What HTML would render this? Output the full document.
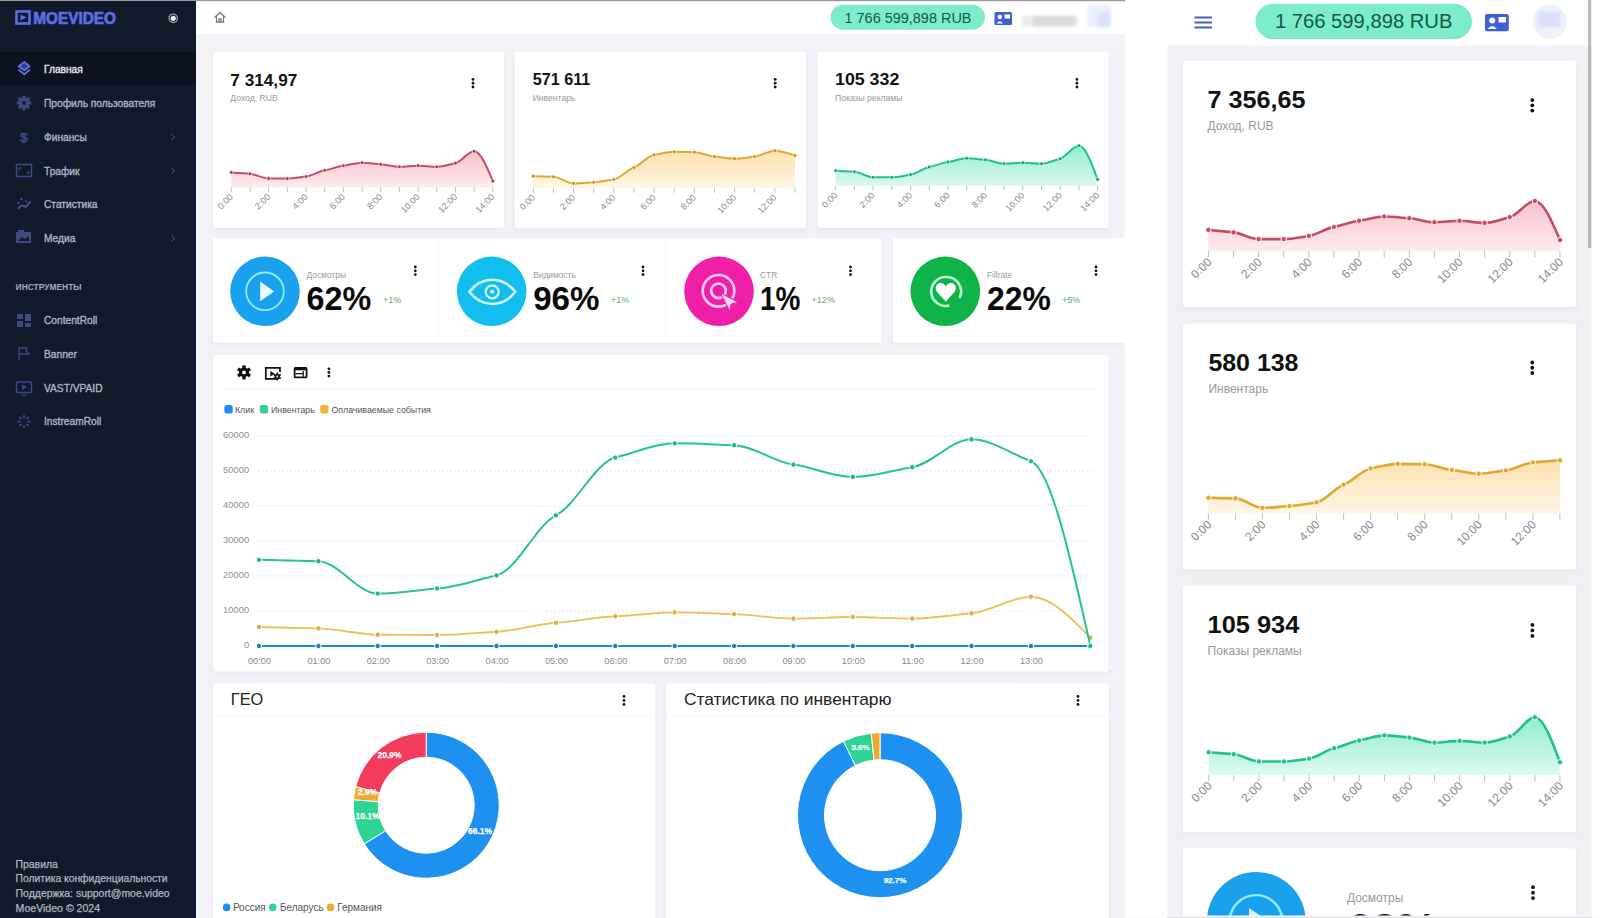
<!DOCTYPE html><html><head><meta charset="utf-8"><title>MoeVideo</title><style>html,body{margin:0;padding:0;width:1600px;height:918px;overflow:hidden;background:#fff;}svg{display:block;font-family:"Liberation Sans", sans-serif;}</style></head><body>
<svg width="1600" height="918" viewBox="0 0 1600 918" font-family='Liberation Sans, sans-serif'>
<defs><filter id="sh" x="-5%" y="-5%" width="110%" height="115%"><feDropShadow dx="0" dy="2" stdDeviation="2.5" flood-color="#8a8aa0" flood-opacity="0.12"/></filter><filter id="bl" x="-30%" y="-30%" width="160%" height="160%"><feGaussianBlur stdDeviation="1.6"/></filter></defs>
<rect x="196" y="0" width="929" height="918" fill="#f3f3f7"/>
<rect x="196" y="0" width="929" height="34" fill="#ffffff"/>
<rect x="0" y="0" width="1125" height="1.2" fill="#9a9a9a"/>
<rect x="0" y="1" width="196" height="917" fill="#111a2b"/>
<rect x="0" y="52" width="196" height="33" fill="#0d1221"/>
<rect x="16.5" y="11.5" width="13" height="12" fill="none" stroke="#5b6fe6" stroke-width="2.6"/>
<path d="M20.5,14.5 L26.5,17.5 L20.5,20.5 Z" fill="#5b6fe6"/>
<text x="33.30" y="23.60" font-size="16.20" fill="#5b6fe6" font-weight="bold" text-anchor="start" textLength="82.6" lengthAdjust="spacingAndGlyphs" stroke="#5b6fe6" stroke-width="0.7">MOEVIDEO</text>
<circle cx="173.2" cy="18.3" r="4.2" fill="none" stroke="#9a9ca8" stroke-width="1.3"/><circle cx="173.2" cy="18.3" r="2.6" fill="#f4f4f8"/>
<text x="44.00" y="72.90" font-size="10.20" fill="#e6e7ee" font-weight="normal" text-anchor="start" stroke="#e6e7ee" stroke-width="0.35">Главная</text>
<text x="44.00" y="106.70" font-size="10.20" fill="#aeb2c3" font-weight="normal" text-anchor="start" stroke="#aeb2c3" stroke-width="0.35">Профиль пользователя</text>
<text x="44.00" y="140.90" font-size="10.20" fill="#aeb2c3" font-weight="normal" text-anchor="start" stroke="#aeb2c3" stroke-width="0.35">Финансы</text>
<text x="44.00" y="174.50" font-size="10.20" fill="#aeb2c3" font-weight="normal" text-anchor="start" stroke="#aeb2c3" stroke-width="0.35">Трафик</text>
<text x="44.00" y="208.20" font-size="10.20" fill="#aeb2c3" font-weight="normal" text-anchor="start" stroke="#aeb2c3" stroke-width="0.35">Статистика</text>
<text x="44.00" y="242.20" font-size="10.20" fill="#aeb2c3" font-weight="normal" text-anchor="start" stroke="#aeb2c3" stroke-width="0.35">Медиа</text>
<text x="44.00" y="323.90" font-size="10.20" fill="#aeb2c3" font-weight="normal" text-anchor="start" stroke="#aeb2c3" stroke-width="0.35">ContentRoll</text>
<text x="44.00" y="358.00" font-size="10.20" fill="#aeb2c3" font-weight="normal" text-anchor="start" stroke="#aeb2c3" stroke-width="0.35">Banner</text>
<text x="44.00" y="391.70" font-size="10.20" fill="#aeb2c3" font-weight="normal" text-anchor="start" stroke="#aeb2c3" stroke-width="0.35">VAST/VPAID</text>
<text x="44.00" y="425.30" font-size="10.20" fill="#aeb2c3" font-weight="normal" text-anchor="start" stroke="#aeb2c3" stroke-width="0.35">InstreamRoll</text>
<path d="M171.5,134.20 l3,3 l-3,3" fill="none" stroke="#5b5f73" stroke-width="1"/>
<path d="M171.5,167.80 l3,3 l-3,3" fill="none" stroke="#5b5f73" stroke-width="1"/>
<path d="M171.5,235.50 l3,3 l-3,3" fill="none" stroke="#5b5f73" stroke-width="1"/>
<text x="15.60" y="290.30" font-size="8.60" fill="#a6a9ba" font-weight="bold" text-anchor="start" textLength="66" lengthAdjust="spacingAndGlyphs">ИНСТРУМЕНТЫ</text>
<path d="M24.3,61.8 L29.6,66.3 L24.3,70.3 L18.6,66.3 Z" fill="#2c3a96" stroke="#6674dc" stroke-width="1.7" stroke-linejoin="round"/>
<path d="M18.4,69.6 L24.3,74.2 L30,69.6" fill="none" stroke="#6674dc" stroke-width="1.8" stroke-linejoin="round"/>
<g transform="translate(24,103)"><circle r="5.2" fill="#414a80"/><circle r="2" fill="#111a2b"/><rect x="-1.6" y="-7.2" width="3.2" height="3" fill="#414a80" transform="rotate(0)"/><rect x="-1.6" y="-7.2" width="3.2" height="3" fill="#414a80" transform="rotate(45)"/><rect x="-1.6" y="-7.2" width="3.2" height="3" fill="#414a80" transform="rotate(90)"/><rect x="-1.6" y="-7.2" width="3.2" height="3" fill="#414a80" transform="rotate(135)"/><rect x="-1.6" y="-7.2" width="3.2" height="3" fill="#414a80" transform="rotate(180)"/><rect x="-1.6" y="-7.2" width="3.2" height="3" fill="#414a80" transform="rotate(225)"/><rect x="-1.6" y="-7.2" width="3.2" height="3" fill="#414a80" transform="rotate(270)"/><rect x="-1.6" y="-7.2" width="3.2" height="3" fill="#414a80" transform="rotate(315)"/></g>
<text x="24.00" y="142.30" font-size="13.50" fill="#414a80" font-weight="normal" text-anchor="middle" stroke="#414a80" stroke-width="0.6">$</text>
<rect x="16.5" y="164.5" width="15" height="12" fill="none" stroke="#414a80" stroke-width="1.5"/><path d="M19,168 h3 M19,168 v2 M29,173 h-3 M29,173 v-2" stroke="#414a80" stroke-width="1.2"/>
<path d="M18.3,208.5 Q21,205 23,205.6 Q25,207 26.3,206.6 L30,201.8" fill="none" stroke="#4a5282" stroke-width="1.9" stroke-linecap="round"/><circle cx="21.4" cy="199" r="1.3" fill="#4a5282"/><circle cx="18.3" cy="203" r="1.2" fill="#4a5282"/><circle cx="26.1" cy="201.5" r="1.1" fill="#454c7c"/>
<rect x="16" y="232" width="15" height="11" fill="#414a80"/><rect x="18" y="230" width="6" height="3" fill="#414a80"/><path d="M18,241 l4,-4 l3,2 l4,-3 v5 z" fill="#111a2b"/>
<rect x="17" y="314" width="6" height="5" fill="#414a80"/><rect x="25" y="314" width="6" height="7" fill="#414a80"/><rect x="17" y="321" width="6" height="6" fill="#414a80"/><rect x="25" y="323" width="6" height="4" fill="#414a80"/>
<path d="M19,360 V348 H27 L26,351 L29,354 H20" fill="none" stroke="#414a80" stroke-width="1.3"/>
<rect x="16.5" y="382" width="15" height="10.5" rx="1" fill="none" stroke="#414a80" stroke-width="1.4"/><path d="M22,384.5 L27,387.2 L22,390 Z" fill="#414a80"/><path d="M21,395 h6" stroke="#414a80" stroke-width="1.2"/>
<g transform="translate(24,421.6)"><rect x="-0.9" y="-6.5" width="1.8" height="3" fill="#414a80" transform="rotate(0)"/><rect x="-0.9" y="-6.5" width="1.8" height="3" fill="#414a80" transform="rotate(45)"/><rect x="-0.9" y="-6.5" width="1.8" height="3" fill="#414a80" transform="rotate(90)"/><rect x="-0.9" y="-6.5" width="1.8" height="3" fill="#414a80" transform="rotate(135)"/><rect x="-0.9" y="-6.5" width="1.8" height="3" fill="#414a80" transform="rotate(180)"/><rect x="-0.9" y="-6.5" width="1.8" height="3" fill="#414a80" transform="rotate(225)"/><rect x="-0.9" y="-6.5" width="1.8" height="3" fill="#414a80" transform="rotate(270)"/><rect x="-0.9" y="-6.5" width="1.8" height="3" fill="#414a80" transform="rotate(315)"/></g>
<text x="15.60" y="867.50" font-size="10.40" fill="#b3b6c0" font-weight="normal" text-anchor="start"  stroke="#b3b6c0" stroke-width="0.25">Правила</text>
<text x="15.60" y="882.20" font-size="10.40" fill="#b3b6c0" font-weight="normal" text-anchor="start" textLength="152.0" lengthAdjust="spacingAndGlyphs" stroke="#b3b6c0" stroke-width="0.25">Политика конфиденциальности</text>
<text x="15.60" y="897.00" font-size="10.40" fill="#b3b6c0" font-weight="normal" text-anchor="start" textLength="154.0" lengthAdjust="spacingAndGlyphs" stroke="#b3b6c0" stroke-width="0.25">Поддержка: support@moe.video</text>
<text x="15.60" y="911.50" font-size="10.40" fill="#b3b6c0" font-weight="normal" text-anchor="start" textLength="84.5" lengthAdjust="spacingAndGlyphs" stroke="#b3b6c0" stroke-width="0.25">MoeVideo © 2024</text>
<path d="M214.5,17.5 L220,12.5 L225.5,17.5 M216.5,16 V22 H223.5 V16 M219,22 v-3 h2 v3" fill="none" stroke="#7a7a7a" stroke-width="1.3"/>
<rect x="830.6" y="4.7" width="154.4" height="25" rx="12.5" fill="#7deccd"/>
<text x="908.00" y="22.50" font-size="14.40" fill="#0e5a46" font-weight="normal" text-anchor="middle" textLength="127" lengthAdjust="spacingAndGlyphs">1 766 599,898 RUB</text>
<rect x="994.5" y="12" width="17.5" height="13" rx="1.5" fill="#3d5fd9"/><circle cx="999.8" cy="17" r="2.2" fill="#fff"/><path d="M996.5,23.5 q3.3,-4.5 6.6,0 z" fill="#fff"/><rect x="1004.5" y="14.5" width="5.5" height="4" fill="#fff"/>
<g filter="url(#bl)"><rect x="1022" y="15.5" width="56" height="11" fill="#ececec"/><rect x="1033" y="16" width="42" height="10" fill="#dadada"/></g>
<g filter="url(#bl)"><rect x="1087.5" y="5" width="23.5" height="22.5" fill="#eaeefc"/><rect x="1098" y="12" width="12" height="15" fill="#dce3f9"/></g>
<rect x="213.00" y="51.80" width="291.00" height="176.20" rx="3" fill="#fff" filter="url(#sh)"/>
<rect x="514.80" y="51.80" width="291.20" height="176.40" rx="3" fill="#fff" filter="url(#sh)"/>
<rect x="817.60" y="51.80" width="291.00" height="176.20" rx="3" fill="#fff" filter="url(#sh)"/>
<text x="230.30" y="85.60" font-size="16.80" fill="#111" font-weight="bold" text-anchor="start" textLength="67" lengthAdjust="spacingAndGlyphs">7 314,97</text>
<text x="230.30" y="100.80" font-size="8.60" fill="#9a9a9a" font-weight="normal" text-anchor="start" >Доход, RUB</text>
<circle cx="473.00" cy="79.40" r="1.40" fill="#111"/><circle cx="473.00" cy="83.20" r="1.40" fill="#111"/><circle cx="473.00" cy="87.00" r="1.40" fill="#111"/>
<defs><linearGradient id="ga" x1="0" y1="0" x2="0" y2="1"><stop offset="0" stop-color="#f6a5b4" stop-opacity="0.68"/><stop offset="1" stop-color="#f6a5b4" stop-opacity="0.22"/></linearGradient></defs><path d="M231.30,172.40 C237.53,172.84 243.75,173.29 249.98,173.80 C256.21,174.31 262.43,178.46 268.66,178.50 C274.89,178.54 281.11,178.60 287.34,178.60 C293.57,178.60 299.79,177.33 306.02,176.60 C312.25,175.87 318.47,171.30 324.70,170.30 C330.93,169.30 337.15,166.40 343.38,165.70 C349.61,165.00 355.83,162.70 362.06,162.70 C368.29,162.70 374.51,163.92 380.74,164.30 C386.97,164.68 393.19,166.80 399.42,166.80 C405.65,166.80 411.87,165.70 418.10,165.70 C424.33,165.70 430.55,166.80 436.78,166.80 C443.01,166.80 449.23,164.52 455.46,163.20 C461.69,161.88 467.91,151.30 474.14,151.30 C480.37,151.30 486.59,166.15 492.82,181.00 L492.82,187.50 L231.30,187.50 Z" fill="url(#ga)"/><path d="M231.30,172.40 C237.53,172.84 243.75,173.29 249.98,173.80 C256.21,174.31 262.43,178.46 268.66,178.50 C274.89,178.54 281.11,178.60 287.34,178.60 C293.57,178.60 299.79,177.33 306.02,176.60 C312.25,175.87 318.47,171.30 324.70,170.30 C330.93,169.30 337.15,166.40 343.38,165.70 C349.61,165.00 355.83,162.70 362.06,162.70 C368.29,162.70 374.51,163.92 380.74,164.30 C386.97,164.68 393.19,166.80 399.42,166.80 C405.65,166.80 411.87,165.70 418.10,165.70 C424.33,165.70 430.55,166.80 436.78,166.80 C443.01,166.80 449.23,164.52 455.46,163.20 C461.69,161.88 467.91,151.30 474.14,151.30 C480.37,151.30 486.59,166.15 492.82,181.00" fill="none" stroke="#c94a62" stroke-width="2.00"/><circle cx="231.30" cy="172.40" r="1.90" fill="#a83a50" stroke="#fff" stroke-width="0.66"/><circle cx="249.98" cy="173.80" r="1.90" fill="#a83a50" stroke="#fff" stroke-width="0.66"/><circle cx="268.66" cy="178.50" r="1.90" fill="#a83a50" stroke="#fff" stroke-width="0.66"/><circle cx="287.34" cy="178.60" r="1.90" fill="#a83a50" stroke="#fff" stroke-width="0.66"/><circle cx="306.02" cy="176.60" r="1.90" fill="#a83a50" stroke="#fff" stroke-width="0.66"/><circle cx="324.70" cy="170.30" r="1.90" fill="#a83a50" stroke="#fff" stroke-width="0.66"/><circle cx="343.38" cy="165.70" r="1.90" fill="#a83a50" stroke="#fff" stroke-width="0.66"/><circle cx="362.06" cy="162.70" r="1.90" fill="#a83a50" stroke="#fff" stroke-width="0.66"/><circle cx="380.74" cy="164.30" r="1.90" fill="#a83a50" stroke="#fff" stroke-width="0.66"/><circle cx="399.42" cy="166.80" r="1.90" fill="#a83a50" stroke="#fff" stroke-width="0.66"/><circle cx="418.10" cy="165.70" r="1.90" fill="#a83a50" stroke="#fff" stroke-width="0.66"/><circle cx="436.78" cy="166.80" r="1.90" fill="#a83a50" stroke="#fff" stroke-width="0.66"/><circle cx="455.46" cy="163.20" r="1.90" fill="#a83a50" stroke="#fff" stroke-width="0.66"/><circle cx="474.14" cy="151.30" r="1.90" fill="#a83a50" stroke="#fff" stroke-width="0.66"/><circle cx="492.82" cy="181.00" r="1.90" fill="#a83a50" stroke="#fff" stroke-width="0.66"/><line x1="231.30" y1="187.20" x2="231.30" y2="192.20" stroke="#b8b8b8" stroke-width="0.9"/><line x1="249.98" y1="187.20" x2="249.98" y2="192.20" stroke="#b8b8b8" stroke-width="0.9"/><line x1="268.66" y1="187.20" x2="268.66" y2="192.20" stroke="#b8b8b8" stroke-width="0.9"/><line x1="287.34" y1="187.20" x2="287.34" y2="192.20" stroke="#b8b8b8" stroke-width="0.9"/><line x1="306.02" y1="187.20" x2="306.02" y2="192.20" stroke="#b8b8b8" stroke-width="0.9"/><line x1="324.70" y1="187.20" x2="324.70" y2="192.20" stroke="#b8b8b8" stroke-width="0.9"/><line x1="343.38" y1="187.20" x2="343.38" y2="192.20" stroke="#b8b8b8" stroke-width="0.9"/><line x1="362.06" y1="187.20" x2="362.06" y2="192.20" stroke="#b8b8b8" stroke-width="0.9"/><line x1="380.74" y1="187.20" x2="380.74" y2="192.20" stroke="#b8b8b8" stroke-width="0.9"/><line x1="399.42" y1="187.20" x2="399.42" y2="192.20" stroke="#b8b8b8" stroke-width="0.9"/><line x1="418.10" y1="187.20" x2="418.10" y2="192.20" stroke="#b8b8b8" stroke-width="0.9"/><line x1="436.78" y1="187.20" x2="436.78" y2="192.20" stroke="#b8b8b8" stroke-width="0.9"/><line x1="455.46" y1="187.20" x2="455.46" y2="192.20" stroke="#b8b8b8" stroke-width="0.9"/><line x1="474.14" y1="187.20" x2="474.14" y2="192.20" stroke="#b8b8b8" stroke-width="0.9"/><line x1="492.82" y1="187.20" x2="492.82" y2="192.20" stroke="#b8b8b8" stroke-width="0.9"/><text x="233.60" y="197.50" font-size="9.00" fill="#8a8a8a" text-anchor="end" transform="rotate(-45 233.60 197.50)">0:00</text><text x="270.96" y="197.50" font-size="9.00" fill="#8a8a8a" text-anchor="end" transform="rotate(-45 270.96 197.50)">2:00</text><text x="308.32" y="197.50" font-size="9.00" fill="#8a8a8a" text-anchor="end" transform="rotate(-45 308.32 197.50)">4:00</text><text x="345.68" y="197.50" font-size="9.00" fill="#8a8a8a" text-anchor="end" transform="rotate(-45 345.68 197.50)">6:00</text><text x="383.04" y="197.50" font-size="9.00" fill="#8a8a8a" text-anchor="end" transform="rotate(-45 383.04 197.50)">8:00</text><text x="420.40" y="197.50" font-size="9.00" fill="#8a8a8a" text-anchor="end" transform="rotate(-45 420.40 197.50)">10:00</text><text x="457.76" y="197.50" font-size="9.00" fill="#8a8a8a" text-anchor="end" transform="rotate(-45 457.76 197.50)">12:00</text><text x="495.12" y="197.50" font-size="9.00" fill="#8a8a8a" text-anchor="end" transform="rotate(-45 495.12 197.50)">14:00</text>
<text x="532.70" y="85.10" font-size="16.80" fill="#111" font-weight="bold" text-anchor="start" textLength="57.7" lengthAdjust="spacingAndGlyphs">571 611</text>
<text x="532.70" y="100.50" font-size="8.60" fill="#9a9a9a" font-weight="normal" text-anchor="start" >Инвентарь</text>
<circle cx="775.20" cy="79.40" r="1.40" fill="#111"/><circle cx="775.20" cy="83.20" r="1.40" fill="#111"/><circle cx="775.20" cy="87.00" r="1.40" fill="#111"/>
<defs><linearGradient id="gb" x1="0" y1="0" x2="0" y2="1"><stop offset="0" stop-color="#fbd38a" stop-opacity="0.68"/><stop offset="1" stop-color="#fbd38a" stop-opacity="0.22"/></linearGradient></defs><path d="M533.30,176.20 C540.01,176.39 546.72,176.58 553.43,176.80 C560.14,177.02 566.85,183.40 573.56,183.40 C580.27,183.40 586.98,182.67 593.69,182.30 C600.40,181.93 607.11,180.46 613.82,179.40 C620.53,178.34 627.24,169.75 633.95,167.50 C640.66,165.25 647.37,155.90 654.08,154.80 C660.79,153.70 667.50,151.80 674.21,151.80 C680.92,151.80 687.63,152.05 694.34,152.20 C701.05,152.35 707.76,156.00 714.47,156.60 C721.18,157.20 727.89,158.70 734.60,158.70 C741.31,158.70 748.02,157.33 754.73,156.60 C761.44,155.87 768.15,150.70 774.86,150.70 C781.57,150.70 788.28,153.10 794.99,155.50 L794.99,188.10 L533.30,188.10 Z" fill="url(#gb)"/><path d="M533.30,176.20 C540.01,176.39 546.72,176.58 553.43,176.80 C560.14,177.02 566.85,183.40 573.56,183.40 C580.27,183.40 586.98,182.67 593.69,182.30 C600.40,181.93 607.11,180.46 613.82,179.40 C620.53,178.34 627.24,169.75 633.95,167.50 C640.66,165.25 647.37,155.90 654.08,154.80 C660.79,153.70 667.50,151.80 674.21,151.80 C680.92,151.80 687.63,152.05 694.34,152.20 C701.05,152.35 707.76,156.00 714.47,156.60 C721.18,157.20 727.89,158.70 734.60,158.70 C741.31,158.70 748.02,157.33 754.73,156.60 C761.44,155.87 768.15,150.70 774.86,150.70 C781.57,150.70 788.28,153.10 794.99,155.50" fill="none" stroke="#e0a82c" stroke-width="2.00"/><circle cx="533.30" cy="176.20" r="1.90" fill="#c48f1c" stroke="#fff" stroke-width="0.66"/><circle cx="553.43" cy="176.80" r="1.90" fill="#c48f1c" stroke="#fff" stroke-width="0.66"/><circle cx="573.56" cy="183.40" r="1.90" fill="#c48f1c" stroke="#fff" stroke-width="0.66"/><circle cx="593.69" cy="182.30" r="1.90" fill="#c48f1c" stroke="#fff" stroke-width="0.66"/><circle cx="613.82" cy="179.40" r="1.90" fill="#c48f1c" stroke="#fff" stroke-width="0.66"/><circle cx="633.95" cy="167.50" r="1.90" fill="#c48f1c" stroke="#fff" stroke-width="0.66"/><circle cx="654.08" cy="154.80" r="1.90" fill="#c48f1c" stroke="#fff" stroke-width="0.66"/><circle cx="674.21" cy="151.80" r="1.90" fill="#c48f1c" stroke="#fff" stroke-width="0.66"/><circle cx="694.34" cy="152.20" r="1.90" fill="#c48f1c" stroke="#fff" stroke-width="0.66"/><circle cx="714.47" cy="156.60" r="1.90" fill="#c48f1c" stroke="#fff" stroke-width="0.66"/><circle cx="734.60" cy="158.70" r="1.90" fill="#c48f1c" stroke="#fff" stroke-width="0.66"/><circle cx="754.73" cy="156.60" r="1.90" fill="#c48f1c" stroke="#fff" stroke-width="0.66"/><circle cx="774.86" cy="150.70" r="1.90" fill="#c48f1c" stroke="#fff" stroke-width="0.66"/><circle cx="794.99" cy="155.50" r="1.90" fill="#c48f1c" stroke="#fff" stroke-width="0.66"/><line x1="533.30" y1="187.80" x2="533.30" y2="192.80" stroke="#b8b8b8" stroke-width="0.9"/><line x1="553.43" y1="187.80" x2="553.43" y2="192.80" stroke="#b8b8b8" stroke-width="0.9"/><line x1="573.56" y1="187.80" x2="573.56" y2="192.80" stroke="#b8b8b8" stroke-width="0.9"/><line x1="593.69" y1="187.80" x2="593.69" y2="192.80" stroke="#b8b8b8" stroke-width="0.9"/><line x1="613.82" y1="187.80" x2="613.82" y2="192.80" stroke="#b8b8b8" stroke-width="0.9"/><line x1="633.95" y1="187.80" x2="633.95" y2="192.80" stroke="#b8b8b8" stroke-width="0.9"/><line x1="654.08" y1="187.80" x2="654.08" y2="192.80" stroke="#b8b8b8" stroke-width="0.9"/><line x1="674.21" y1="187.80" x2="674.21" y2="192.80" stroke="#b8b8b8" stroke-width="0.9"/><line x1="694.34" y1="187.80" x2="694.34" y2="192.80" stroke="#b8b8b8" stroke-width="0.9"/><line x1="714.47" y1="187.80" x2="714.47" y2="192.80" stroke="#b8b8b8" stroke-width="0.9"/><line x1="734.60" y1="187.80" x2="734.60" y2="192.80" stroke="#b8b8b8" stroke-width="0.9"/><line x1="754.73" y1="187.80" x2="754.73" y2="192.80" stroke="#b8b8b8" stroke-width="0.9"/><line x1="774.86" y1="187.80" x2="774.86" y2="192.80" stroke="#b8b8b8" stroke-width="0.9"/><line x1="794.99" y1="187.80" x2="794.99" y2="192.80" stroke="#b8b8b8" stroke-width="0.9"/><text x="535.60" y="198.10" font-size="9.00" fill="#8a8a8a" text-anchor="end" transform="rotate(-45 535.60 198.10)">0:00</text><text x="575.86" y="198.10" font-size="9.00" fill="#8a8a8a" text-anchor="end" transform="rotate(-45 575.86 198.10)">2:00</text><text x="616.12" y="198.10" font-size="9.00" fill="#8a8a8a" text-anchor="end" transform="rotate(-45 616.12 198.10)">4:00</text><text x="656.38" y="198.10" font-size="9.00" fill="#8a8a8a" text-anchor="end" transform="rotate(-45 656.38 198.10)">6:00</text><text x="696.64" y="198.10" font-size="9.00" fill="#8a8a8a" text-anchor="end" transform="rotate(-45 696.64 198.10)">8:00</text><text x="736.90" y="198.10" font-size="9.00" fill="#8a8a8a" text-anchor="end" transform="rotate(-45 736.90 198.10)">10:00</text><text x="777.16" y="198.10" font-size="9.00" fill="#8a8a8a" text-anchor="end" transform="rotate(-45 777.16 198.10)">12:00</text>
<text x="835.00" y="85.10" font-size="16.80" fill="#111" font-weight="bold" text-anchor="start" textLength="64.3" lengthAdjust="spacingAndGlyphs">105 332</text>
<text x="835.00" y="100.50" font-size="8.60" fill="#9a9a9a" font-weight="normal" text-anchor="start" >Показы рекламы</text>
<circle cx="1076.90" cy="79.40" r="1.40" fill="#111"/><circle cx="1076.90" cy="83.20" r="1.40" fill="#111"/><circle cx="1076.90" cy="87.00" r="1.40" fill="#111"/>
<defs><linearGradient id="gc" x1="0" y1="0" x2="0" y2="1"><stop offset="0" stop-color="#5ee6b8" stop-opacity="0.68"/><stop offset="1" stop-color="#5ee6b8" stop-opacity="0.22"/></linearGradient></defs><path d="M835.70,170.70 C841.94,171.05 848.17,171.40 854.41,171.80 C860.65,172.20 866.88,177.30 873.12,177.30 C879.36,177.30 885.59,177.30 891.83,177.30 C898.07,177.30 904.30,175.54 910.54,174.60 C916.78,173.66 923.01,168.16 929.25,167.00 C935.49,165.84 941.72,162.80 947.96,162.00 C954.20,161.20 960.43,158.30 966.67,158.30 C972.91,158.30 979.14,159.31 985.38,159.80 C991.62,160.30 997.85,163.70 1004.09,163.70 C1010.33,163.70 1016.56,162.70 1022.80,162.70 C1029.04,162.70 1035.27,163.70 1041.51,163.70 C1047.75,163.70 1053.98,160.35 1060.22,158.70 C1066.46,157.05 1072.69,145.70 1078.93,145.70 C1085.17,145.70 1091.40,162.55 1097.64,179.40 L1097.64,186.00 L835.70,186.00 Z" fill="url(#gc)"/><path d="M835.70,170.70 C841.94,171.05 848.17,171.40 854.41,171.80 C860.65,172.20 866.88,177.30 873.12,177.30 C879.36,177.30 885.59,177.30 891.83,177.30 C898.07,177.30 904.30,175.54 910.54,174.60 C916.78,173.66 923.01,168.16 929.25,167.00 C935.49,165.84 941.72,162.80 947.96,162.00 C954.20,161.20 960.43,158.30 966.67,158.30 C972.91,158.30 979.14,159.31 985.38,159.80 C991.62,160.30 997.85,163.70 1004.09,163.70 C1010.33,163.70 1016.56,162.70 1022.80,162.70 C1029.04,162.70 1035.27,163.70 1041.51,163.70 C1047.75,163.70 1053.98,160.35 1060.22,158.70 C1066.46,157.05 1072.69,145.70 1078.93,145.70 C1085.17,145.70 1091.40,162.55 1097.64,179.40" fill="none" stroke="#1fc28f" stroke-width="2.00"/><circle cx="835.70" cy="170.70" r="1.90" fill="#15a277" stroke="#fff" stroke-width="0.66"/><circle cx="854.41" cy="171.80" r="1.90" fill="#15a277" stroke="#fff" stroke-width="0.66"/><circle cx="873.12" cy="177.30" r="1.90" fill="#15a277" stroke="#fff" stroke-width="0.66"/><circle cx="891.83" cy="177.30" r="1.90" fill="#15a277" stroke="#fff" stroke-width="0.66"/><circle cx="910.54" cy="174.60" r="1.90" fill="#15a277" stroke="#fff" stroke-width="0.66"/><circle cx="929.25" cy="167.00" r="1.90" fill="#15a277" stroke="#fff" stroke-width="0.66"/><circle cx="947.96" cy="162.00" r="1.90" fill="#15a277" stroke="#fff" stroke-width="0.66"/><circle cx="966.67" cy="158.30" r="1.90" fill="#15a277" stroke="#fff" stroke-width="0.66"/><circle cx="985.38" cy="159.80" r="1.90" fill="#15a277" stroke="#fff" stroke-width="0.66"/><circle cx="1004.09" cy="163.70" r="1.90" fill="#15a277" stroke="#fff" stroke-width="0.66"/><circle cx="1022.80" cy="162.70" r="1.90" fill="#15a277" stroke="#fff" stroke-width="0.66"/><circle cx="1041.51" cy="163.70" r="1.90" fill="#15a277" stroke="#fff" stroke-width="0.66"/><circle cx="1060.22" cy="158.70" r="1.90" fill="#15a277" stroke="#fff" stroke-width="0.66"/><circle cx="1078.93" cy="145.70" r="1.90" fill="#15a277" stroke="#fff" stroke-width="0.66"/><circle cx="1097.64" cy="179.40" r="1.90" fill="#15a277" stroke="#fff" stroke-width="0.66"/><line x1="835.70" y1="185.70" x2="835.70" y2="190.70" stroke="#b8b8b8" stroke-width="0.9"/><line x1="854.41" y1="185.70" x2="854.41" y2="190.70" stroke="#b8b8b8" stroke-width="0.9"/><line x1="873.12" y1="185.70" x2="873.12" y2="190.70" stroke="#b8b8b8" stroke-width="0.9"/><line x1="891.83" y1="185.70" x2="891.83" y2="190.70" stroke="#b8b8b8" stroke-width="0.9"/><line x1="910.54" y1="185.70" x2="910.54" y2="190.70" stroke="#b8b8b8" stroke-width="0.9"/><line x1="929.25" y1="185.70" x2="929.25" y2="190.70" stroke="#b8b8b8" stroke-width="0.9"/><line x1="947.96" y1="185.70" x2="947.96" y2="190.70" stroke="#b8b8b8" stroke-width="0.9"/><line x1="966.67" y1="185.70" x2="966.67" y2="190.70" stroke="#b8b8b8" stroke-width="0.9"/><line x1="985.38" y1="185.70" x2="985.38" y2="190.70" stroke="#b8b8b8" stroke-width="0.9"/><line x1="1004.09" y1="185.70" x2="1004.09" y2="190.70" stroke="#b8b8b8" stroke-width="0.9"/><line x1="1022.80" y1="185.70" x2="1022.80" y2="190.70" stroke="#b8b8b8" stroke-width="0.9"/><line x1="1041.51" y1="185.70" x2="1041.51" y2="190.70" stroke="#b8b8b8" stroke-width="0.9"/><line x1="1060.22" y1="185.70" x2="1060.22" y2="190.70" stroke="#b8b8b8" stroke-width="0.9"/><line x1="1078.93" y1="185.70" x2="1078.93" y2="190.70" stroke="#b8b8b8" stroke-width="0.9"/><line x1="1097.64" y1="185.70" x2="1097.64" y2="190.70" stroke="#b8b8b8" stroke-width="0.9"/><text x="838.00" y="196.00" font-size="9.00" fill="#8a8a8a" text-anchor="end" transform="rotate(-45 838.00 196.00)">0:00</text><text x="875.42" y="196.00" font-size="9.00" fill="#8a8a8a" text-anchor="end" transform="rotate(-45 875.42 196.00)">2:00</text><text x="912.84" y="196.00" font-size="9.00" fill="#8a8a8a" text-anchor="end" transform="rotate(-45 912.84 196.00)">4:00</text><text x="950.26" y="196.00" font-size="9.00" fill="#8a8a8a" text-anchor="end" transform="rotate(-45 950.26 196.00)">6:00</text><text x="987.68" y="196.00" font-size="9.00" fill="#8a8a8a" text-anchor="end" transform="rotate(-45 987.68 196.00)">8:00</text><text x="1025.10" y="196.00" font-size="9.00" fill="#8a8a8a" text-anchor="end" transform="rotate(-45 1025.10 196.00)">10:00</text><text x="1062.52" y="196.00" font-size="9.00" fill="#8a8a8a" text-anchor="end" transform="rotate(-45 1062.52 196.00)">12:00</text><text x="1099.94" y="196.00" font-size="9.00" fill="#8a8a8a" text-anchor="end" transform="rotate(-45 1099.94 196.00)">14:00</text>
<rect x="213" y="238.2" width="668.3" height="104.4" fill="#fff" filter="url(#sh)"/>
<rect x="893" y="238.2" width="232" height="104.4" fill="#fff" filter="url(#sh)"/>
<rect x="438" y="240" width="0.8" height="101" fill="#f6f6f8"/>
<rect x="665" y="240" width="0.8" height="101" fill="#f6f6f8"/>
<circle cx="265.00" cy="291.3" r="34.8" fill="#1aa1ee"/><circle cx="265" cy="291.3" r="18.8" fill="none" stroke="#8cefff" stroke-width="1.8"/><path d="M260.2,281.6 L274.2,291.4 L260.2,301.3 Z" fill="#e6faff"/><text x="306.60" y="277.60" font-size="8.40" fill="#9a9a9a" font-weight="normal" text-anchor="start" >Досмотры</text><text x="306.60" y="309.60" font-size="32.40" fill="#0a0a0a" font-weight="bold" text-anchor="start" textLength="64.7" lengthAdjust="spacingAndGlyphs">62%</text>
<text x="383.00" y="302.50" font-size="9.10" fill="#62a877" font-weight="normal" text-anchor="start" >+1%</text>
<circle cx="415.30" cy="267.00" r="1.40" fill="#111"/><circle cx="415.30" cy="270.80" r="1.40" fill="#111"/><circle cx="415.30" cy="274.60" r="1.40" fill="#111"/>
<circle cx="491.70" cy="291.3" r="34.8" fill="#12bdf0"/><path d="M469.3,291.8 C477,282 485,279.8 492.2,279.8 C499.5,279.8 507.5,282 515.3,291.8 C507.5,301.6 499.5,303.9 492.2,303.9 C485,303.9 477,301.6 469.3,291.8 Z" fill="none" stroke="#d3f7ff" stroke-width="2.5" stroke-linejoin="round"/><circle cx="492.2" cy="291.8" r="6.5" fill="none" stroke="#d3f7ff" stroke-width="2.2"/><circle cx="492.2" cy="291.8" r="2" fill="#d3f7ff"/><text x="533.20" y="277.60" font-size="8.40" fill="#9a9a9a" font-weight="normal" text-anchor="start" >Видимость</text><text x="533.20" y="309.60" font-size="32.40" fill="#0a0a0a" font-weight="bold" text-anchor="start" textLength="66.3" lengthAdjust="spacingAndGlyphs">96%</text>
<text x="611.00" y="302.50" font-size="9.10" fill="#62a877" font-weight="normal" text-anchor="start" >+1%</text>
<circle cx="643.00" cy="267.00" r="1.40" fill="#111"/><circle cx="643.00" cy="270.80" r="1.40" fill="#111"/><circle cx="643.00" cy="274.60" r="1.40" fill="#111"/>
<circle cx="719.00" cy="291.3" r="34.8" fill="#f01fa8"/><circle cx="718.5" cy="290.8" r="15.8" fill="none" stroke="#ffc9f4" stroke-width="2.7"/><circle cx="718.5" cy="290.8" r="7.3" fill="none" stroke="#ffc9f4" stroke-width="2.6"/><path d="M720.2,292.8 L738.6,302.3 L731,304.4 L729.9,311.6 Z" fill="#ffd8f7" stroke="#f01fa8" stroke-width="1.1" stroke-linejoin="round"/><text x="760.00" y="277.60" font-size="8.40" fill="#9a9a9a" font-weight="normal" text-anchor="start" >CTR</text><text x="760.00" y="309.60" font-size="32.40" fill="#0a0a0a" font-weight="bold" text-anchor="start" textLength="40.4" lengthAdjust="spacingAndGlyphs">1%</text>
<text x="811.50" y="302.50" font-size="9.10" fill="#62a877" font-weight="normal" text-anchor="start" >+12%</text>
<circle cx="850.50" cy="267.00" r="1.40" fill="#111"/><circle cx="850.50" cy="270.80" r="1.40" fill="#111"/><circle cx="850.50" cy="274.60" r="1.40" fill="#111"/>
<circle cx="945.30" cy="291.3" r="34.8" fill="#10b348"/><path d="M946,277 A14.5,14.5 0 1 0 949.5,305.5" fill="none" stroke="#b6ffd4" stroke-width="2.6" transform="rotate(0 945 291)"/><path d="M946,277 A14.5,14.5 0 0 1 959.5,298" fill="none" stroke="#b6ffd4" stroke-width="2.6"/><path d="M945.8,301.5 L937.5,292.5 C934,288.5 936,283 940.5,283 C943,283 944.8,284.5 945.8,286.5 C946.8,284.5 948.6,283 951.1,283 C955.6,283 957.6,288.5 954.1,292.5 Z" fill="#ffffff"/><text x="987.00" y="277.60" font-size="8.40" fill="#9a9a9a" font-weight="normal" text-anchor="start" >Fillrate</text><text x="987.00" y="309.60" font-size="32.40" fill="#0a0a0a" font-weight="bold" text-anchor="start" textLength="63.7" lengthAdjust="spacingAndGlyphs">22%</text>
<text x="1062.00" y="302.50" font-size="9.10" fill="#62a877" font-weight="normal" text-anchor="start" >+5%</text>
<circle cx="1096.00" cy="267.00" r="1.40" fill="#111"/><circle cx="1096.00" cy="270.80" r="1.40" fill="#111"/><circle cx="1096.00" cy="274.60" r="1.40" fill="#111"/>
<rect x="213.20" y="355.00" width="895.40" height="316.40" rx="3" fill="#fff" filter="url(#sh)"/>
<rect x="220" y="388.6" width="880" height="1" fill="#f4f4f6"/>
<g transform="translate(244,372.4)"><circle r="4.9" fill="#111"/><circle r="1.9" fill="#fff"/><rect x="-1.7" y="-7" width="3.4" height="3.2" fill="#111" transform="rotate(0)"/><rect x="-1.7" y="-7" width="3.4" height="3.2" fill="#111" transform="rotate(60)"/><rect x="-1.7" y="-7" width="3.4" height="3.2" fill="#111" transform="rotate(120)"/><rect x="-1.7" y="-7" width="3.4" height="3.2" fill="#111" transform="rotate(180)"/><rect x="-1.7" y="-7" width="3.4" height="3.2" fill="#111" transform="rotate(240)"/><rect x="-1.7" y="-7" width="3.4" height="3.2" fill="#111" transform="rotate(300)"/></g>
<path d="M277.5,378.8 H265.8 V367.8 H280 V372" fill="none" stroke="#111" stroke-width="1.7"/><path d="M270.3,371 L275,373.8 L270.3,376.6 Z" fill="#111"/><g transform="translate(277.3,376.5)"><circle r="2.6" fill="#111"/><circle r="0.9" fill="#fff"/><rect x="-0.9" y="-3.9" width="1.8" height="1.6" fill="#111" transform="rotate(0)"/><rect x="-0.9" y="-3.9" width="1.8" height="1.6" fill="#111" transform="rotate(60)"/><rect x="-0.9" y="-3.9" width="1.8" height="1.6" fill="#111" transform="rotate(120)"/><rect x="-0.9" y="-3.9" width="1.8" height="1.6" fill="#111" transform="rotate(180)"/><rect x="-0.9" y="-3.9" width="1.8" height="1.6" fill="#111" transform="rotate(240)"/><rect x="-0.9" y="-3.9" width="1.8" height="1.6" fill="#111" transform="rotate(300)"/></g>
<rect x="294.6" y="367.8" width="12" height="9.6" rx="1" fill="none" stroke="#111" stroke-width="1.8"/><rect x="294.6" y="367.3" width="12" height="3" fill="#111"/><path d="M295.5,373.6 h7.5 M303.2,371 v6" stroke="#111" stroke-width="1.3"/>
<circle cx="328.90" cy="368.80" r="1.40" fill="#111"/><circle cx="328.90" cy="372.45" r="1.40" fill="#111"/><circle cx="328.90" cy="376.10" r="1.40" fill="#111"/>
<rect x="224.40" y="404.9" width="8.3" height="8.5" rx="2.5" fill="#1b8ef0"/>
<text x="235.00" y="412.60" font-size="8.80" fill="#555" font-weight="normal" text-anchor="start" >Клик</text>
<rect x="259.80" y="404.9" width="8.3" height="8.5" rx="2.5" fill="#2fd08e"/>
<text x="271.00" y="412.60" font-size="8.80" fill="#555" font-weight="normal" text-anchor="start" >Инвентарь</text>
<rect x="320.20" y="404.9" width="8.3" height="8.5" rx="2.5" fill="#f2b233"/>
<text x="331.40" y="412.60" font-size="8.80" fill="#555" font-weight="normal" text-anchor="start" >Оплачиваемые события</text>
<line x1="258" y1="646.00" x2="1092" y2="646.00" stroke="#e4e4e8" stroke-width="0.9" stroke-dasharray="2 2"/>
<text x="249.20" y="648.10" font-size="9.40" fill="#8f8f8f" font-weight="normal" text-anchor="end" >0</text>
<line x1="258" y1="610.98" x2="1092" y2="610.98" stroke="#e4e4e8" stroke-width="0.9" stroke-dasharray="2 2"/>
<text x="249.20" y="613.08" font-size="9.40" fill="#8f8f8f" font-weight="normal" text-anchor="end" >10000</text>
<line x1="258" y1="575.96" x2="1092" y2="575.96" stroke="#e4e4e8" stroke-width="0.9" stroke-dasharray="2 2"/>
<text x="249.20" y="578.06" font-size="9.40" fill="#8f8f8f" font-weight="normal" text-anchor="end" >20000</text>
<line x1="258" y1="540.94" x2="1092" y2="540.94" stroke="#e4e4e8" stroke-width="0.9" stroke-dasharray="2 2"/>
<text x="249.20" y="543.04" font-size="9.40" fill="#8f8f8f" font-weight="normal" text-anchor="end" >30000</text>
<line x1="258" y1="505.92" x2="1092" y2="505.92" stroke="#e4e4e8" stroke-width="0.9" stroke-dasharray="2 2"/>
<text x="249.20" y="508.02" font-size="9.40" fill="#8f8f8f" font-weight="normal" text-anchor="end" >40000</text>
<line x1="258" y1="470.90" x2="1092" y2="470.90" stroke="#e4e4e8" stroke-width="0.9" stroke-dasharray="2 2"/>
<text x="249.20" y="473.00" font-size="9.40" fill="#8f8f8f" font-weight="normal" text-anchor="end" >50000</text>
<line x1="258" y1="435.88" x2="1092" y2="435.88" stroke="#e4e4e8" stroke-width="0.9" stroke-dasharray="2 2"/>
<text x="249.20" y="437.98" font-size="9.40" fill="#8f8f8f" font-weight="normal" text-anchor="end" >60000</text>
<text x="259.50" y="664.00" font-size="9.20" fill="#8a8a8a" font-weight="normal" text-anchor="middle" >00:00</text>
<text x="318.88" y="664.00" font-size="9.20" fill="#8a8a8a" font-weight="normal" text-anchor="middle" >01:00</text>
<text x="378.26" y="664.00" font-size="9.20" fill="#8a8a8a" font-weight="normal" text-anchor="middle" >02:00</text>
<text x="437.64" y="664.00" font-size="9.20" fill="#8a8a8a" font-weight="normal" text-anchor="middle" >03:00</text>
<text x="497.02" y="664.00" font-size="9.20" fill="#8a8a8a" font-weight="normal" text-anchor="middle" >04:00</text>
<text x="556.40" y="664.00" font-size="9.20" fill="#8a8a8a" font-weight="normal" text-anchor="middle" >05:00</text>
<text x="615.78" y="664.00" font-size="9.20" fill="#8a8a8a" font-weight="normal" text-anchor="middle" >06:00</text>
<text x="675.16" y="664.00" font-size="9.20" fill="#8a8a8a" font-weight="normal" text-anchor="middle" >07:00</text>
<text x="734.54" y="664.00" font-size="9.20" fill="#8a8a8a" font-weight="normal" text-anchor="middle" >08:00</text>
<text x="793.92" y="664.00" font-size="9.20" fill="#8a8a8a" font-weight="normal" text-anchor="middle" >09:00</text>
<text x="853.30" y="664.00" font-size="9.20" fill="#8a8a8a" font-weight="normal" text-anchor="middle" >10:00</text>
<text x="912.68" y="664.00" font-size="9.20" fill="#8a8a8a" font-weight="normal" text-anchor="middle" >11:00</text>
<text x="972.06" y="664.00" font-size="9.20" fill="#8a8a8a" font-weight="normal" text-anchor="middle" >12:00</text>
<text x="1031.44" y="664.00" font-size="9.20" fill="#8a8a8a" font-weight="normal" text-anchor="middle" >13:00</text>
<path d="M259.00,646 H1090.32" stroke="#1b8ac9" stroke-width="2"/>
<circle cx="259.00" cy="646.00" r="2.7" fill="#1b7fc4" stroke="#fff" stroke-width="1"/>
<circle cx="318.38" cy="646.00" r="2.7" fill="#1b7fc4" stroke="#fff" stroke-width="1"/>
<circle cx="377.76" cy="646.00" r="2.7" fill="#1b7fc4" stroke="#fff" stroke-width="1"/>
<circle cx="437.14" cy="646.00" r="2.7" fill="#1b7fc4" stroke="#fff" stroke-width="1"/>
<circle cx="496.52" cy="646.00" r="2.7" fill="#1b7fc4" stroke="#fff" stroke-width="1"/>
<circle cx="555.90" cy="646.00" r="2.7" fill="#1b7fc4" stroke="#fff" stroke-width="1"/>
<circle cx="615.28" cy="646.00" r="2.7" fill="#1b7fc4" stroke="#fff" stroke-width="1"/>
<circle cx="674.66" cy="646.00" r="2.7" fill="#1b7fc4" stroke="#fff" stroke-width="1"/>
<circle cx="734.04" cy="646.00" r="2.7" fill="#1b7fc4" stroke="#fff" stroke-width="1"/>
<circle cx="793.42" cy="646.00" r="2.7" fill="#1b7fc4" stroke="#fff" stroke-width="1"/>
<circle cx="852.80" cy="646.00" r="2.7" fill="#1b7fc4" stroke="#fff" stroke-width="1"/>
<circle cx="912.18" cy="646.00" r="2.7" fill="#1b7fc4" stroke="#fff" stroke-width="1"/>
<circle cx="971.56" cy="646.00" r="2.7" fill="#1b7fc4" stroke="#fff" stroke-width="1"/>
<circle cx="1030.94" cy="646.00" r="2.7" fill="#1b7fc4" stroke="#fff" stroke-width="1"/>
<circle cx="1090.32" cy="646.00" r="2.7" fill="#1b7fc4" stroke="#fff" stroke-width="1"/>
<path d="M259.00,626.98 C278.79,627.45 298.59,627.92 318.38,628.38 C338.17,628.85 357.97,634.58 377.76,634.69 C397.55,634.79 417.35,635.00 437.14,635.00 C456.93,635.00 476.73,632.80 496.52,631.78 C516.31,630.76 536.11,624.07 555.90,622.78 C575.69,621.49 595.49,617.13 615.28,616.27 C635.07,615.40 654.87,612.38 674.66,612.38 C694.45,612.38 714.25,613.65 734.04,614.17 C753.83,614.68 773.63,618.58 793.42,618.58 C813.21,618.58 833.01,617.07 852.80,617.07 C872.59,617.07 892.39,618.58 912.18,618.58 C931.97,618.58 951.77,615.05 971.56,613.29 C991.35,611.53 1011.15,596.76 1030.94,596.76 C1050.73,596.76 1070.53,617.23 1090.32,637.70" fill="none" stroke="#eac25a" stroke-width="1.9"/>
<circle cx="259.00" cy="626.98" r="2.7" fill="#deb040" stroke="#fff" stroke-width="1"/>
<circle cx="318.38" cy="628.38" r="2.7" fill="#deb040" stroke="#fff" stroke-width="1"/>
<circle cx="377.76" cy="634.69" r="2.7" fill="#deb040" stroke="#fff" stroke-width="1"/>
<circle cx="437.14" cy="635.00" r="2.7" fill="#deb040" stroke="#fff" stroke-width="1"/>
<circle cx="496.52" cy="631.78" r="2.7" fill="#deb040" stroke="#fff" stroke-width="1"/>
<circle cx="555.90" cy="622.78" r="2.7" fill="#deb040" stroke="#fff" stroke-width="1"/>
<circle cx="615.28" cy="616.27" r="2.7" fill="#deb040" stroke="#fff" stroke-width="1"/>
<circle cx="674.66" cy="612.38" r="2.7" fill="#deb040" stroke="#fff" stroke-width="1"/>
<circle cx="734.04" cy="614.17" r="2.7" fill="#deb040" stroke="#fff" stroke-width="1"/>
<circle cx="793.42" cy="618.58" r="2.7" fill="#deb040" stroke="#fff" stroke-width="1"/>
<circle cx="852.80" cy="617.07" r="2.7" fill="#deb040" stroke="#fff" stroke-width="1"/>
<circle cx="912.18" cy="618.58" r="2.7" fill="#deb040" stroke="#fff" stroke-width="1"/>
<circle cx="971.56" cy="613.29" r="2.7" fill="#deb040" stroke="#fff" stroke-width="1"/>
<circle cx="1030.94" cy="596.76" r="2.7" fill="#deb040" stroke="#fff" stroke-width="1"/>
<circle cx="1090.32" cy="637.70" r="2.7" fill="#deb040" stroke="#fff" stroke-width="1"/>
<path d="M259.00,559.85 C278.79,560.32 298.59,560.78 318.38,561.25 C338.17,561.72 357.97,593.58 377.76,593.58 C397.55,593.58 417.35,589.97 437.14,588.46 C456.93,586.95 476.73,579.80 496.52,575.47 C516.31,571.14 536.11,525.16 555.90,515.34 C575.69,505.52 595.49,462.33 615.28,457.59 C635.07,452.85 654.87,443.37 674.66,443.37 C694.45,443.37 714.25,444.59 734.04,445.20 C753.83,445.80 773.63,461.96 793.42,464.60 C813.21,467.24 833.01,476.89 852.80,476.89 C872.59,476.89 892.39,470.32 912.18,467.19 C931.97,464.05 951.77,439.28 971.56,439.28 C991.35,439.28 1011.15,453.96 1030.94,461.30 C1050.73,468.65 1070.53,557.32 1090.32,646.00" fill="none" stroke="#27c29a" stroke-width="2"/>
<circle cx="259.00" cy="559.85" r="2.7" fill="#22b58c" stroke="#fff" stroke-width="1"/>
<circle cx="318.38" cy="561.25" r="2.7" fill="#22b58c" stroke="#fff" stroke-width="1"/>
<circle cx="377.76" cy="593.58" r="2.7" fill="#22b58c" stroke="#fff" stroke-width="1"/>
<circle cx="437.14" cy="588.46" r="2.7" fill="#22b58c" stroke="#fff" stroke-width="1"/>
<circle cx="496.52" cy="575.47" r="2.7" fill="#22b58c" stroke="#fff" stroke-width="1"/>
<circle cx="555.90" cy="515.34" r="2.7" fill="#22b58c" stroke="#fff" stroke-width="1"/>
<circle cx="615.28" cy="457.59" r="2.7" fill="#22b58c" stroke="#fff" stroke-width="1"/>
<circle cx="674.66" cy="443.37" r="2.7" fill="#22b58c" stroke="#fff" stroke-width="1"/>
<circle cx="734.04" cy="445.20" r="2.7" fill="#22b58c" stroke="#fff" stroke-width="1"/>
<circle cx="793.42" cy="464.60" r="2.7" fill="#22b58c" stroke="#fff" stroke-width="1"/>
<circle cx="852.80" cy="476.89" r="2.7" fill="#22b58c" stroke="#fff" stroke-width="1"/>
<circle cx="912.18" cy="467.19" r="2.7" fill="#22b58c" stroke="#fff" stroke-width="1"/>
<circle cx="971.56" cy="439.28" r="2.7" fill="#22b58c" stroke="#fff" stroke-width="1"/>
<circle cx="1030.94" cy="461.30" r="2.7" fill="#22b58c" stroke="#fff" stroke-width="1"/>
<circle cx="1090.32" cy="646.00" r="2.7" fill="#22b58c" stroke="#fff" stroke-width="1"/>
<rect x="213.20" y="683.20" width="442.00" height="240.00" rx="3" fill="#fff" filter="url(#sh)"/>
<rect x="666.50" y="683.20" width="442.30" height="240.00" rx="3" fill="#fff" filter="url(#sh)"/>
<text x="230.80" y="705.30" font-size="16.40" fill="#222" font-weight="normal" text-anchor="start" >ГЕО</text>
<circle cx="624.00" cy="696.40" r="1.40" fill="#111"/><circle cx="624.00" cy="700.40" r="1.40" fill="#111"/><circle cx="624.00" cy="704.40" r="1.40" fill="#111"/>
<rect x="213.2" y="716" width="442" height="1" fill="#f5f5f7"/>
<text x="683.90" y="705.40" font-size="16.40" fill="#222" font-weight="normal" text-anchor="start" textLength="207.6" lengthAdjust="spacingAndGlyphs">Статистика по инвентарю</text>
<circle cx="1078.00" cy="696.40" r="1.40" fill="#111"/><circle cx="1078.00" cy="700.40" r="1.40" fill="#111"/><circle cx="1078.00" cy="704.40" r="1.40" fill="#111"/>
<rect x="666.5" y="716" width="442.3" height="1" fill="#f5f5f7"/>
<path d="M426.20,732.20 A73.00,73.00 0 1 1 364.32,843.93 L385.51,830.66 A48.00,48.00 0 1 0 426.20,757.20 Z" fill="#1e90f0" stroke="#fff" stroke-width="1"/><path d="M364.32,843.93 A73.00,73.00 0 0 1 353.41,799.70 L378.34,801.58 A48.00,48.00 0 0 0 385.51,830.66 Z" fill="#2ed592" stroke="#fff" stroke-width="1"/><path d="M353.41,799.70 A73.00,73.00 0 0 1 355.61,786.60 L379.78,792.97 A48.00,48.00 0 0 0 378.34,801.58 Z" fill="#f0a92e" stroke="#fff" stroke-width="1"/><path d="M355.61,786.60 A73.00,73.00 0 0 1 426.20,732.20 L426.20,757.20 A48.00,48.00 0 0 0 379.78,792.97 Z" fill="#f33c5b" stroke="#fff" stroke-width="1"/><text x="389.50" y="757.50" font-size="8.50" fill="#fff" font-weight="bold" text-anchor="middle" stroke="#ffffff" stroke-width="0.25">20.9%</text><text x="367.50" y="795.00" font-size="8.50" fill="#fff" font-weight="bold" text-anchor="middle" stroke="#ffffff" stroke-width="0.25">2.9%</text><text x="367.50" y="819.00" font-size="8.50" fill="#fff" font-weight="bold" text-anchor="middle" stroke="#ffffff" stroke-width="0.25">10.1%</text><text x="480.00" y="834.00" font-size="8.50" fill="#fff" font-weight="bold" text-anchor="middle" stroke="#ffffff" stroke-width="0.25">66.1%</text>
<path d="M880.00,732.70 A82.50,82.50 0 1 1 843.47,741.23 L855.43,765.44 A55.50,55.50 0 1 0 880.00,759.70 Z" fill="#1e90f0" stroke="#fff" stroke-width="1"/><path d="M843.47,741.23 A82.50,82.50 0 0 1 871.20,733.17 L874.08,760.02 A55.50,55.50 0 0 0 855.43,765.44 Z" fill="#2ed592" stroke="#fff" stroke-width="1"/><path d="M871.20,733.17 A82.50,82.50 0 0 1 880.00,732.70 L880.00,759.70 A55.50,55.50 0 0 0 874.08,760.02 Z" fill="#f0a92e" stroke="#fff" stroke-width="1"/><text x="860.50" y="749.50" font-size="8.00" fill="#fff" font-weight="bold" text-anchor="middle" stroke="#ffffff" stroke-width="0.25">5.6%</text><text x="895.00" y="883.00" font-size="8.00" fill="#fff" font-weight="bold" text-anchor="middle" stroke="#ffffff" stroke-width="0.25">92.7%</text>
<circle cx="226.60" cy="907.4" r="3.8" fill="#1e90f0"/>
<text x="232.90" y="911.00" font-size="10.00" fill="#555" font-weight="normal" text-anchor="start" >Россия</text>
<circle cx="272.80" cy="907.4" r="3.8" fill="#2ed592"/>
<text x="279.90" y="911.00" font-size="10.00" fill="#555" font-weight="normal" text-anchor="start" >Беларусь</text>
<circle cx="330.60" cy="907.4" r="3.8" fill="#f0a92e"/>
<text x="337.20" y="911.00" font-size="10.00" fill="#555" font-weight="normal" text-anchor="start" >Германия</text>
<rect x="1125" y="0" width="475" height="918" fill="#fff"/>
<rect x="1167.6" y="45.4" width="424" height="872.6" fill="#f0f0f5"/>
<rect x="1588" y="0" width="3.2" height="248" fill="#b9b9b9"/>
<path d="M1194.5,17.5 H1212 M1194.5,22.5 H1212 M1194.5,27.5 H1212" stroke="#4b5bc6" stroke-width="1.8"/>
<rect x="1255.4" y="3.8" width="216.6" height="35.2" rx="17.6" fill="#7deccd"/>
<text x="1363.70" y="28.20" font-size="20.00" fill="#0e5a46" font-weight="normal" text-anchor="middle" textLength="177.5" lengthAdjust="spacingAndGlyphs">1 766 599,898 RUB</text>
<rect x="1485" y="14" width="23.8" height="17.3" rx="2" fill="#3d5fd9"/><circle cx="1492.2" cy="20.5" r="3" fill="#fff"/><path d="M1487.5,29 q4.7,-6 9.4,0 z" fill="#fff"/><rect x="1498.5" y="17" width="7.5" height="5.5" fill="#fff"/>
<circle cx="1550" cy="21.8" r="17" fill="#eff1fb"/><g filter="url(#bl)"><rect x="1538.5" y="11.5" width="22" height="15" fill="#dae1f8"/></g>
<rect x="1183.00" y="60.80" width="393.00" height="246.20" rx="3" fill="#fff" filter="url(#sh)"/>
<rect x="1183.00" y="323.60" width="393.00" height="246.00" rx="3" fill="#fff" filter="url(#sh)"/>
<rect x="1183.00" y="585.50" width="393.00" height="246.70" rx="3" fill="#fff" filter="url(#sh)"/>
<rect x="1183.00" y="848.30" width="393.00" height="80.00" rx="3" fill="#fff" filter="url(#sh)"/>
<text x="1207.50" y="108.00" font-size="23.60" fill="#111" font-weight="bold" text-anchor="start" textLength="98" lengthAdjust="spacingAndGlyphs">7 356,65</text>
<text x="1207.50" y="130.20" font-size="12.00" fill="#9a9a9a" font-weight="normal" text-anchor="start" >Доход, RUB</text>
<circle cx="1532.30" cy="100.10" r="1.90" fill="#111"/><circle cx="1532.30" cy="105.35" r="1.90" fill="#111"/><circle cx="1532.30" cy="110.60" r="1.90" fill="#111"/>
<defs><linearGradient id="gm1" x1="0" y1="0" x2="0" y2="1"><stop offset="0" stop-color="#f6a5b4" stop-opacity="0.68"/><stop offset="1" stop-color="#f6a5b4" stop-opacity="0.22"/></linearGradient></defs><path d="M1208.40,229.90 C1216.77,230.73 1225.14,231.56 1233.51,232.40 C1241.88,233.24 1250.25,239.10 1258.62,239.10 C1266.99,239.10 1275.36,239.10 1283.73,239.10 C1292.10,239.10 1300.47,237.12 1308.84,236.00 C1317.21,234.88 1325.58,228.29 1333.95,226.90 C1342.32,225.51 1350.69,221.75 1359.06,220.80 C1367.43,219.85 1375.80,216.50 1384.17,216.50 C1392.54,216.50 1400.91,217.77 1409.28,218.30 C1417.65,218.83 1426.02,222.30 1434.39,222.30 C1442.76,222.30 1451.13,220.80 1459.50,220.80 C1467.87,220.80 1476.24,222.90 1484.61,222.90 C1492.98,222.90 1501.35,219.11 1509.72,217.10 C1518.09,215.09 1526.46,201.00 1534.83,201.00 C1543.20,201.00 1551.57,220.50 1559.94,240.00 L1559.94,251.30 L1208.40,251.30 Z" fill="url(#gm1)"/><path d="M1208.40,229.90 C1216.77,230.73 1225.14,231.56 1233.51,232.40 C1241.88,233.24 1250.25,239.10 1258.62,239.10 C1266.99,239.10 1275.36,239.10 1283.73,239.10 C1292.10,239.10 1300.47,237.12 1308.84,236.00 C1317.21,234.88 1325.58,228.29 1333.95,226.90 C1342.32,225.51 1350.69,221.75 1359.06,220.80 C1367.43,219.85 1375.80,216.50 1384.17,216.50 C1392.54,216.50 1400.91,217.77 1409.28,218.30 C1417.65,218.83 1426.02,222.30 1434.39,222.30 C1442.76,222.30 1451.13,220.80 1459.50,220.80 C1467.87,220.80 1476.24,222.90 1484.61,222.90 C1492.98,222.90 1501.35,219.11 1509.72,217.10 C1518.09,215.09 1526.46,201.00 1534.83,201.00 C1543.20,201.00 1551.57,220.50 1559.94,240.00" fill="none" stroke="#c94a62" stroke-width="2.60"/><circle cx="1208.40" cy="229.90" r="2.70" fill="#c94a62" stroke="#fff" stroke-width="0.94"/><circle cx="1233.51" cy="232.40" r="2.70" fill="#c94a62" stroke="#fff" stroke-width="0.94"/><circle cx="1258.62" cy="239.10" r="2.70" fill="#c94a62" stroke="#fff" stroke-width="0.94"/><circle cx="1283.73" cy="239.10" r="2.70" fill="#c94a62" stroke="#fff" stroke-width="0.94"/><circle cx="1308.84" cy="236.00" r="2.70" fill="#c94a62" stroke="#fff" stroke-width="0.94"/><circle cx="1333.95" cy="226.90" r="2.70" fill="#c94a62" stroke="#fff" stroke-width="0.94"/><circle cx="1359.06" cy="220.80" r="2.70" fill="#c94a62" stroke="#fff" stroke-width="0.94"/><circle cx="1384.17" cy="216.50" r="2.70" fill="#c94a62" stroke="#fff" stroke-width="0.94"/><circle cx="1409.28" cy="218.30" r="2.70" fill="#c94a62" stroke="#fff" stroke-width="0.94"/><circle cx="1434.39" cy="222.30" r="2.70" fill="#c94a62" stroke="#fff" stroke-width="0.94"/><circle cx="1459.50" cy="220.80" r="2.70" fill="#c94a62" stroke="#fff" stroke-width="0.94"/><circle cx="1484.61" cy="222.90" r="2.70" fill="#c94a62" stroke="#fff" stroke-width="0.94"/><circle cx="1509.72" cy="217.10" r="2.70" fill="#c94a62" stroke="#fff" stroke-width="0.94"/><circle cx="1534.83" cy="201.00" r="2.70" fill="#c94a62" stroke="#fff" stroke-width="0.94"/><circle cx="1559.94" cy="240.00" r="2.70" fill="#c94a62" stroke="#fff" stroke-width="0.94"/><line x1="1208.40" y1="251.00" x2="1208.40" y2="257.50" stroke="#b8b8b8" stroke-width="0.9"/><line x1="1233.51" y1="251.00" x2="1233.51" y2="257.50" stroke="#b8b8b8" stroke-width="0.9"/><line x1="1258.62" y1="251.00" x2="1258.62" y2="257.50" stroke="#b8b8b8" stroke-width="0.9"/><line x1="1283.73" y1="251.00" x2="1283.73" y2="257.50" stroke="#b8b8b8" stroke-width="0.9"/><line x1="1308.84" y1="251.00" x2="1308.84" y2="257.50" stroke="#b8b8b8" stroke-width="0.9"/><line x1="1333.95" y1="251.00" x2="1333.95" y2="257.50" stroke="#b8b8b8" stroke-width="0.9"/><line x1="1359.06" y1="251.00" x2="1359.06" y2="257.50" stroke="#b8b8b8" stroke-width="0.9"/><line x1="1384.17" y1="251.00" x2="1384.17" y2="257.50" stroke="#b8b8b8" stroke-width="0.9"/><line x1="1409.28" y1="251.00" x2="1409.28" y2="257.50" stroke="#b8b8b8" stroke-width="0.9"/><line x1="1434.39" y1="251.00" x2="1434.39" y2="257.50" stroke="#b8b8b8" stroke-width="0.9"/><line x1="1459.50" y1="251.00" x2="1459.50" y2="257.50" stroke="#b8b8b8" stroke-width="0.9"/><line x1="1484.61" y1="251.00" x2="1484.61" y2="257.50" stroke="#b8b8b8" stroke-width="0.9"/><line x1="1509.72" y1="251.00" x2="1509.72" y2="257.50" stroke="#b8b8b8" stroke-width="0.9"/><line x1="1534.83" y1="251.00" x2="1534.83" y2="257.50" stroke="#b8b8b8" stroke-width="0.9"/><line x1="1559.94" y1="251.00" x2="1559.94" y2="257.50" stroke="#b8b8b8" stroke-width="0.9"/><text x="1212.40" y="262.80" font-size="12.00" fill="#8a8a8a" text-anchor="end" transform="rotate(-45 1212.40 262.80)">0:00</text><text x="1262.62" y="262.80" font-size="12.00" fill="#8a8a8a" text-anchor="end" transform="rotate(-45 1262.62 262.80)">2:00</text><text x="1312.84" y="262.80" font-size="12.00" fill="#8a8a8a" text-anchor="end" transform="rotate(-45 1312.84 262.80)">4:00</text><text x="1363.06" y="262.80" font-size="12.00" fill="#8a8a8a" text-anchor="end" transform="rotate(-45 1363.06 262.80)">6:00</text><text x="1413.28" y="262.80" font-size="12.00" fill="#8a8a8a" text-anchor="end" transform="rotate(-45 1413.28 262.80)">8:00</text><text x="1463.50" y="262.80" font-size="12.00" fill="#8a8a8a" text-anchor="end" transform="rotate(-45 1463.50 262.80)">10:00</text><text x="1513.72" y="262.80" font-size="12.00" fill="#8a8a8a" text-anchor="end" transform="rotate(-45 1513.72 262.80)">12:00</text><text x="1563.94" y="262.80" font-size="12.00" fill="#8a8a8a" text-anchor="end" transform="rotate(-45 1563.94 262.80)">14:00</text>
<text x="1208.40" y="370.80" font-size="23.60" fill="#111" font-weight="bold" text-anchor="start" textLength="90.1" lengthAdjust="spacingAndGlyphs">580 138</text>
<text x="1208.40" y="392.60" font-size="12.00" fill="#9a9a9a" font-weight="normal" text-anchor="start" >Инвентарь</text>
<circle cx="1532.30" cy="362.50" r="1.90" fill="#111"/><circle cx="1532.30" cy="367.75" r="1.90" fill="#111"/><circle cx="1532.30" cy="373.00" r="1.90" fill="#111"/>
<defs><linearGradient id="gm2" x1="0" y1="0" x2="0" y2="1"><stop offset="0" stop-color="#fbd38a" stop-opacity="0.68"/><stop offset="1" stop-color="#fbd38a" stop-opacity="0.22"/></linearGradient></defs><path d="M1208.40,497.80 C1217.41,497.99 1226.43,498.18 1235.44,498.40 C1244.45,498.62 1253.47,507.90 1262.48,507.90 C1271.49,507.90 1280.51,506.50 1289.52,506.00 C1298.53,505.50 1307.55,503.72 1316.56,502.40 C1325.57,501.08 1334.59,487.81 1343.60,484.70 C1352.61,481.59 1361.63,470.19 1370.64,468.50 C1379.65,466.81 1388.67,463.90 1397.68,463.90 C1406.69,463.90 1415.71,464.15 1424.72,464.30 C1433.73,464.45 1442.75,469.14 1451.76,470.00 C1460.77,470.86 1469.79,473.70 1478.80,473.70 C1487.81,473.70 1496.83,471.44 1505.84,470.40 C1514.85,469.36 1523.87,463.17 1532.88,462.40 C1541.89,461.63 1550.91,460.96 1559.92,460.30 L1559.92,513.70 L1208.40,513.70 Z" fill="url(#gm2)"/><path d="M1208.40,497.80 C1217.41,497.99 1226.43,498.18 1235.44,498.40 C1244.45,498.62 1253.47,507.90 1262.48,507.90 C1271.49,507.90 1280.51,506.50 1289.52,506.00 C1298.53,505.50 1307.55,503.72 1316.56,502.40 C1325.57,501.08 1334.59,487.81 1343.60,484.70 C1352.61,481.59 1361.63,470.19 1370.64,468.50 C1379.65,466.81 1388.67,463.90 1397.68,463.90 C1406.69,463.90 1415.71,464.15 1424.72,464.30 C1433.73,464.45 1442.75,469.14 1451.76,470.00 C1460.77,470.86 1469.79,473.70 1478.80,473.70 C1487.81,473.70 1496.83,471.44 1505.84,470.40 C1514.85,469.36 1523.87,463.17 1532.88,462.40 C1541.89,461.63 1550.91,460.96 1559.92,460.30" fill="none" stroke="#e0a82c" stroke-width="2.60"/><circle cx="1208.40" cy="497.80" r="2.70" fill="#e0a82c" stroke="#fff" stroke-width="0.94"/><circle cx="1235.44" cy="498.40" r="2.70" fill="#e0a82c" stroke="#fff" stroke-width="0.94"/><circle cx="1262.48" cy="507.90" r="2.70" fill="#e0a82c" stroke="#fff" stroke-width="0.94"/><circle cx="1289.52" cy="506.00" r="2.70" fill="#e0a82c" stroke="#fff" stroke-width="0.94"/><circle cx="1316.56" cy="502.40" r="2.70" fill="#e0a82c" stroke="#fff" stroke-width="0.94"/><circle cx="1343.60" cy="484.70" r="2.70" fill="#e0a82c" stroke="#fff" stroke-width="0.94"/><circle cx="1370.64" cy="468.50" r="2.70" fill="#e0a82c" stroke="#fff" stroke-width="0.94"/><circle cx="1397.68" cy="463.90" r="2.70" fill="#e0a82c" stroke="#fff" stroke-width="0.94"/><circle cx="1424.72" cy="464.30" r="2.70" fill="#e0a82c" stroke="#fff" stroke-width="0.94"/><circle cx="1451.76" cy="470.00" r="2.70" fill="#e0a82c" stroke="#fff" stroke-width="0.94"/><circle cx="1478.80" cy="473.70" r="2.70" fill="#e0a82c" stroke="#fff" stroke-width="0.94"/><circle cx="1505.84" cy="470.40" r="2.70" fill="#e0a82c" stroke="#fff" stroke-width="0.94"/><circle cx="1532.88" cy="462.40" r="2.70" fill="#e0a82c" stroke="#fff" stroke-width="0.94"/><circle cx="1559.92" cy="460.30" r="2.70" fill="#e0a82c" stroke="#fff" stroke-width="0.94"/><line x1="1208.40" y1="513.40" x2="1208.40" y2="519.90" stroke="#b8b8b8" stroke-width="0.9"/><line x1="1235.44" y1="513.40" x2="1235.44" y2="519.90" stroke="#b8b8b8" stroke-width="0.9"/><line x1="1262.48" y1="513.40" x2="1262.48" y2="519.90" stroke="#b8b8b8" stroke-width="0.9"/><line x1="1289.52" y1="513.40" x2="1289.52" y2="519.90" stroke="#b8b8b8" stroke-width="0.9"/><line x1="1316.56" y1="513.40" x2="1316.56" y2="519.90" stroke="#b8b8b8" stroke-width="0.9"/><line x1="1343.60" y1="513.40" x2="1343.60" y2="519.90" stroke="#b8b8b8" stroke-width="0.9"/><line x1="1370.64" y1="513.40" x2="1370.64" y2="519.90" stroke="#b8b8b8" stroke-width="0.9"/><line x1="1397.68" y1="513.40" x2="1397.68" y2="519.90" stroke="#b8b8b8" stroke-width="0.9"/><line x1="1424.72" y1="513.40" x2="1424.72" y2="519.90" stroke="#b8b8b8" stroke-width="0.9"/><line x1="1451.76" y1="513.40" x2="1451.76" y2="519.90" stroke="#b8b8b8" stroke-width="0.9"/><line x1="1478.80" y1="513.40" x2="1478.80" y2="519.90" stroke="#b8b8b8" stroke-width="0.9"/><line x1="1505.84" y1="513.40" x2="1505.84" y2="519.90" stroke="#b8b8b8" stroke-width="0.9"/><line x1="1532.88" y1="513.40" x2="1532.88" y2="519.90" stroke="#b8b8b8" stroke-width="0.9"/><line x1="1559.92" y1="513.40" x2="1559.92" y2="519.90" stroke="#b8b8b8" stroke-width="0.9"/><text x="1212.40" y="525.20" font-size="12.00" fill="#8a8a8a" text-anchor="end" transform="rotate(-45 1212.40 525.20)">0:00</text><text x="1266.48" y="525.20" font-size="12.00" fill="#8a8a8a" text-anchor="end" transform="rotate(-45 1266.48 525.20)">2:00</text><text x="1320.56" y="525.20" font-size="12.00" fill="#8a8a8a" text-anchor="end" transform="rotate(-45 1320.56 525.20)">4:00</text><text x="1374.64" y="525.20" font-size="12.00" fill="#8a8a8a" text-anchor="end" transform="rotate(-45 1374.64 525.20)">6:00</text><text x="1428.72" y="525.20" font-size="12.00" fill="#8a8a8a" text-anchor="end" transform="rotate(-45 1428.72 525.20)">8:00</text><text x="1482.80" y="525.20" font-size="12.00" fill="#8a8a8a" text-anchor="end" transform="rotate(-45 1482.80 525.20)">10:00</text><text x="1536.88" y="525.20" font-size="12.00" fill="#8a8a8a" text-anchor="end" transform="rotate(-45 1536.88 525.20)">12:00</text>
<text x="1207.60" y="633.40" font-size="23.60" fill="#111" font-weight="bold" text-anchor="start" textLength="91.7" lengthAdjust="spacingAndGlyphs">105 934</text>
<text x="1207.60" y="655.00" font-size="12.00" fill="#9a9a9a" font-weight="normal" text-anchor="start" >Показы рекламы</text>
<circle cx="1532.40" cy="624.90" r="1.90" fill="#111"/><circle cx="1532.40" cy="630.40" r="1.90" fill="#111"/><circle cx="1532.40" cy="635.90" r="1.90" fill="#111"/>
<defs><linearGradient id="gm3" x1="0" y1="0" x2="0" y2="1"><stop offset="0" stop-color="#5ee6b8" stop-opacity="0.68"/><stop offset="1" stop-color="#5ee6b8" stop-opacity="0.22"/></linearGradient></defs><path d="M1208.70,752.30 C1217.06,752.90 1225.43,753.50 1233.79,754.20 C1242.15,754.90 1250.52,761.50 1258.88,761.50 C1267.24,761.50 1275.61,761.50 1283.97,761.50 C1292.33,761.50 1300.70,759.66 1309.06,758.60 C1317.42,757.54 1325.79,749.96 1334.15,748.30 C1342.51,746.64 1350.88,741.68 1359.24,740.50 C1367.60,739.32 1375.97,735.40 1384.33,735.40 C1392.69,735.40 1401.06,736.93 1409.42,737.60 C1417.78,738.27 1426.15,742.70 1434.51,742.70 C1442.87,742.70 1451.24,740.90 1459.60,740.90 C1467.96,740.90 1476.33,742.70 1484.69,742.70 C1493.05,742.70 1501.42,738.77 1509.78,736.50 C1518.14,734.23 1526.51,717.30 1534.87,717.30 C1543.23,717.30 1551.60,739.80 1559.96,762.30 L1559.96,775.10 L1208.70,775.10 Z" fill="url(#gm3)"/><path d="M1208.70,752.30 C1217.06,752.90 1225.43,753.50 1233.79,754.20 C1242.15,754.90 1250.52,761.50 1258.88,761.50 C1267.24,761.50 1275.61,761.50 1283.97,761.50 C1292.33,761.50 1300.70,759.66 1309.06,758.60 C1317.42,757.54 1325.79,749.96 1334.15,748.30 C1342.51,746.64 1350.88,741.68 1359.24,740.50 C1367.60,739.32 1375.97,735.40 1384.33,735.40 C1392.69,735.40 1401.06,736.93 1409.42,737.60 C1417.78,738.27 1426.15,742.70 1434.51,742.70 C1442.87,742.70 1451.24,740.90 1459.60,740.90 C1467.96,740.90 1476.33,742.70 1484.69,742.70 C1493.05,742.70 1501.42,738.77 1509.78,736.50 C1518.14,734.23 1526.51,717.30 1534.87,717.30 C1543.23,717.30 1551.60,739.80 1559.96,762.30" fill="none" stroke="#1fc28f" stroke-width="2.60"/><circle cx="1208.70" cy="752.30" r="2.70" fill="#1fc28f" stroke="#fff" stroke-width="0.94"/><circle cx="1233.79" cy="754.20" r="2.70" fill="#1fc28f" stroke="#fff" stroke-width="0.94"/><circle cx="1258.88" cy="761.50" r="2.70" fill="#1fc28f" stroke="#fff" stroke-width="0.94"/><circle cx="1283.97" cy="761.50" r="2.70" fill="#1fc28f" stroke="#fff" stroke-width="0.94"/><circle cx="1309.06" cy="758.60" r="2.70" fill="#1fc28f" stroke="#fff" stroke-width="0.94"/><circle cx="1334.15" cy="748.30" r="2.70" fill="#1fc28f" stroke="#fff" stroke-width="0.94"/><circle cx="1359.24" cy="740.50" r="2.70" fill="#1fc28f" stroke="#fff" stroke-width="0.94"/><circle cx="1384.33" cy="735.40" r="2.70" fill="#1fc28f" stroke="#fff" stroke-width="0.94"/><circle cx="1409.42" cy="737.60" r="2.70" fill="#1fc28f" stroke="#fff" stroke-width="0.94"/><circle cx="1434.51" cy="742.70" r="2.70" fill="#1fc28f" stroke="#fff" stroke-width="0.94"/><circle cx="1459.60" cy="740.90" r="2.70" fill="#1fc28f" stroke="#fff" stroke-width="0.94"/><circle cx="1484.69" cy="742.70" r="2.70" fill="#1fc28f" stroke="#fff" stroke-width="0.94"/><circle cx="1509.78" cy="736.50" r="2.70" fill="#1fc28f" stroke="#fff" stroke-width="0.94"/><circle cx="1534.87" cy="717.30" r="2.70" fill="#1fc28f" stroke="#fff" stroke-width="0.94"/><circle cx="1559.96" cy="762.30" r="2.70" fill="#1fc28f" stroke="#fff" stroke-width="0.94"/><line x1="1208.70" y1="774.80" x2="1208.70" y2="781.30" stroke="#b8b8b8" stroke-width="0.9"/><line x1="1233.79" y1="774.80" x2="1233.79" y2="781.30" stroke="#b8b8b8" stroke-width="0.9"/><line x1="1258.88" y1="774.80" x2="1258.88" y2="781.30" stroke="#b8b8b8" stroke-width="0.9"/><line x1="1283.97" y1="774.80" x2="1283.97" y2="781.30" stroke="#b8b8b8" stroke-width="0.9"/><line x1="1309.06" y1="774.80" x2="1309.06" y2="781.30" stroke="#b8b8b8" stroke-width="0.9"/><line x1="1334.15" y1="774.80" x2="1334.15" y2="781.30" stroke="#b8b8b8" stroke-width="0.9"/><line x1="1359.24" y1="774.80" x2="1359.24" y2="781.30" stroke="#b8b8b8" stroke-width="0.9"/><line x1="1384.33" y1="774.80" x2="1384.33" y2="781.30" stroke="#b8b8b8" stroke-width="0.9"/><line x1="1409.42" y1="774.80" x2="1409.42" y2="781.30" stroke="#b8b8b8" stroke-width="0.9"/><line x1="1434.51" y1="774.80" x2="1434.51" y2="781.30" stroke="#b8b8b8" stroke-width="0.9"/><line x1="1459.60" y1="774.80" x2="1459.60" y2="781.30" stroke="#b8b8b8" stroke-width="0.9"/><line x1="1484.69" y1="774.80" x2="1484.69" y2="781.30" stroke="#b8b8b8" stroke-width="0.9"/><line x1="1509.78" y1="774.80" x2="1509.78" y2="781.30" stroke="#b8b8b8" stroke-width="0.9"/><line x1="1534.87" y1="774.80" x2="1534.87" y2="781.30" stroke="#b8b8b8" stroke-width="0.9"/><line x1="1559.96" y1="774.80" x2="1559.96" y2="781.30" stroke="#b8b8b8" stroke-width="0.9"/><text x="1212.70" y="786.60" font-size="12.00" fill="#8a8a8a" text-anchor="end" transform="rotate(-45 1212.70 786.60)">0:00</text><text x="1262.88" y="786.60" font-size="12.00" fill="#8a8a8a" text-anchor="end" transform="rotate(-45 1262.88 786.60)">2:00</text><text x="1313.06" y="786.60" font-size="12.00" fill="#8a8a8a" text-anchor="end" transform="rotate(-45 1313.06 786.60)">4:00</text><text x="1363.24" y="786.60" font-size="12.00" fill="#8a8a8a" text-anchor="end" transform="rotate(-45 1363.24 786.60)">6:00</text><text x="1413.42" y="786.60" font-size="12.00" fill="#8a8a8a" text-anchor="end" transform="rotate(-45 1413.42 786.60)">8:00</text><text x="1463.60" y="786.60" font-size="12.00" fill="#8a8a8a" text-anchor="end" transform="rotate(-45 1463.60 786.60)">10:00</text><text x="1513.78" y="786.60" font-size="12.00" fill="#8a8a8a" text-anchor="end" transform="rotate(-45 1513.78 786.60)">12:00</text><text x="1563.96" y="786.60" font-size="12.00" fill="#8a8a8a" text-anchor="end" transform="rotate(-45 1563.96 786.60)">14:00</text>
<circle cx="1256.3" cy="921.4" r="49.5" fill="#1aa1ee"/><circle cx="1256" cy="921.4" r="26.3" fill="none" stroke="#8cefff" stroke-width="2.4"/><path d="M1249,908 L1268,921 L1249,934 Z" fill="#d9f6ff"/>
<text x="1346.90" y="902.00" font-size="12.00" fill="#9a9a9a" font-weight="normal" text-anchor="start" >Досмотры</text>
<circle cx="1533.00" cy="887.20" r="1.90" fill="#111"/><circle cx="1533.00" cy="892.65" r="1.90" fill="#111"/><circle cx="1533.00" cy="898.10" r="1.90" fill="#111"/>
<text x="1346.90" y="945.00" font-size="45.00" fill="#0a0a0a" font-weight="bold" text-anchor="start" >62%</text>
<rect x="1125" y="915.5" width="475" height="2.5" fill="#fbfbfc"/><rect x="1167" y="916.6" width="425" height="1.4" fill="#e2e2e6"/>
</svg></body></html>
